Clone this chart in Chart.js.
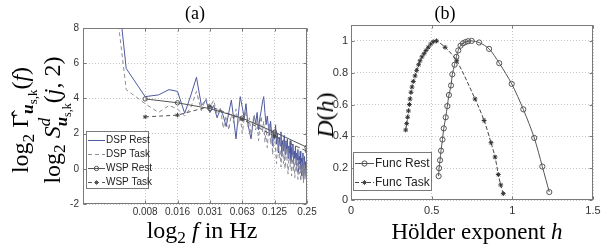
<!DOCTYPE html>
<html>
<head>
<meta charset="utf-8">
<script src="https://cdn.jsdelivr.net/npm/chart.js@4"></script>
<style>
body { margin: 0; background: #fff; }
#wrap { position: relative; width: 614px; height: 249px; overflow: hidden; font-family: "Liberation Serif", serif; color: #000; }
canvas { position: absolute; top: 0; }
#chartA { left: 0; }
#chartB { left: 310px; }
.lbl { position: absolute; white-space: nowrap; transform: translate(-50%, -50%); line-height: 1; }
.rot { transform: translate(-50%, -50%) rotate(-90deg); }
.lbl sub { font-size: 72%; vertical-align: -0.3em; line-height: 0; }
.lbl sub sub { font-size: 75%; }
.ss { display: inline-block; vertical-align: -0.4em; font-size: 70%; line-height: 1.0; text-align: left; }
.ss > span { display: block; }
</style>
</head>
<body>
<div id="wrap">
  <canvas id="chartA" width="330" height="249"></canvas>
  <canvas id="chartB" width="304" height="249"></canvas>
  <div class="lbl" style="left:195px;top:13px;font-size:18px">(a)</div>
  <div class="lbl" style="left:445px;top:13px;font-size:18px">(b)</div>
  <div class="lbl" style="left:202px;top:230px;font-size:24px">log<sub>2</sub> <i>f</i> in Hz</div>
  <div class="lbl" style="left:477px;top:231px;font-size:23px">Hölder exponent <i>h</i></div>
  <div class="lbl rot" style="left:21px;top:120px;font-size:24px">log<sub>2</sub> Γ̂<sub><b><i>u</i></b><sub>s,k</sub></sub>(<i>f</i>)</div>
  <div class="lbl rot" style="left:54px;top:120px;font-size:24px">log<sub>2</sub> <i>S</i><span class="ss"><span><i>d</i></span><span><b><i>u</i></b><sub>s,k</sub></span></span>(<i>j</i>, 2)</div>
  <div class="lbl rot" style="left:325px;top:115px;font-size:24px"><i>D</i>(<i>h</i>)</div>
</div>
<script>
// ---- (a) spectra ----
// DSP estimates live on a linear frequency grid (bin k = k * dspDf Hz)
const dspDf = 1 / 384;
const dspRest = [
  23, 5.7, 4.1, 4.2, 4.5, 4.4, 3.15, 4.2, 5.2, 3.6,
  3.9, 3.2, 3.6, 2.9, 3.4, 3.0, 2.4, 3.2, 3.9, 2.8,
  1.7, 3.0, 4.1, 3.5, 2.9, 3.7, 2.6, 2.1, 1.7, 2.5,
  3.0, 2.6, 3.2, 2.2, 2.9, 3.3, 3.8, 4.1, 3.2, 2.5,
  3.0, 2.4, 1.9, 2.7, 2.0, 1.3, 2.1, 1.7, 2.5, 1.4,
  2.0, 0.9, 1.8, 1.3, 2.1, 0.7, 1.6, 1.0, 1.9, 0.8,
  1.5, 1.1, 1.7, 0.6, 1.3, 0.9, 1.6, 0.4, 1.2, 0.8,
  1.4, 0.3, 1.0, 0.6, 1.3, 0.2, 0.9, 0.5, 1.1, -0.2,
  0.7, 0.3, 1.0, 0.0, 0.6, -0.4, 0.5, 0.9, -0.6, 0.3,
  0.7, -0.3, 0.4, 0.1, 0.6, 0.3
];
const dspTask = [
  20, 4.5, 3.7, 3.2, 3.6, 3.4, 3.0, 3.5, 4.4, 3.3,
  4.0, 3.5, 3.9, 3.1, 3.5, 2.3, 3.0, 2.2, 3.1, 2.6,
  3.4, 2.5, 3.0, 2.0, 2.8, 3.3, 2.4, 2.9, 1.9, 2.6,
  3.1, 2.2, 2.7, 1.6, 2.4, 3.0, 2.1, 2.7, 1.5, 2.3,
  1.2, 2.0, 2.6, 1.4, 1.9, 0.8, 1.6, 2.0, 1.0, 0.3,
  1.3, 1.7, 0.6, 1.1, 0.1, 0.9, 1.4, 0.3, 0.8, 0.0,
  0.7, 1.2, 0.2, -0.3, 0.5, 0.9, 0.1, 0.6, -0.4, 0.3,
  0.8, -0.1, 0.4, -0.5, 0.2, 0.6, -0.2, 0.3, -0.6, 0.1,
  0.5, -0.3, 0.2, -0.7, 0.0, 0.4, -0.4, 0.1, -0.8, -0.1,
  0.3, -0.5, 0.0, -0.6, 0.1, 0.2
];
// WSP estimates, one per octave (log2 of frequency)
const wspOctaves = [-7, -6, -5, -4, -3, -2];
const wspRest = [3.97, 3.75, 3.42, 2.88, 2.08, 1.22];
const wspTask = [2.95, 3.05, 3.55, 2.82, 1.85, 1.0];
const freqTicks = [-7, -6, -5, -4, -3, -2];
const freqTickLabels = ["0.008", "0.016", "0.031", "0.063", "0.125", "0.25"];

// ---- (b) multifractal spectra ----
const restH = [0.543, 0.546, 0.552, 0.558, 0.567, 0.575, 0.587, 0.597, 0.607, 0.620,
  0.628, 0.642, 0.653, 0.665, 0.679, 0.694, 0.710, 0.726, 0.748, 0.794,
  0.856, 0.919, 0.996, 1.068, 1.136, 1.186, 1.229];
const restD = [0.15, 0.20, 0.25, 0.31, 0.38, 0.45, 0.52, 0.59, 0.66, 0.72,
  0.79, 0.85, 0.90, 0.94, 0.97, 0.985, 0.993, 0.998, 1.0, 0.99,
  0.95, 0.86, 0.73, 0.57, 0.39, 0.21, 0.05];
const taskH = [0.339, 0.345, 0.351, 0.356, 0.362, 0.366, 0.372, 0.378, 0.386, 0.397,
  0.407, 0.419, 0.428, 0.440, 0.453, 0.465, 0.479, 0.494, 0.510, 0.530,
  0.583, 0.655, 0.769, 0.825, 0.868, 0.893, 0.913, 0.928, 0.944];
const taskD = [0.44, 0.48, 0.52, 0.56, 0.60, 0.635, 0.677, 0.71, 0.745, 0.78,
  0.815, 0.85, 0.875, 0.90, 0.92, 0.94, 0.96, 0.98, 0.995, 1.0,
  0.96, 0.875, 0.635, 0.50, 0.36, 0.27, 0.16, 0.095, 0.04];
const holderTicks = [0, 0.5, 1, 1.5];
const dimTicks = [0, 0.2, 0.4, 0.6, 0.8, 1];

function toPoints(xs, ys) {
  return xs.map((x, i) => ({ x: x, y: ys[i] }));
}

function dspPoints(vals) {
  return vals.map((v, i) => ({ x: Math.log2((i + 1) * dspDf), y: v }));
}

// plain number labels, "1" not "1.0"
function shortNum(v) {
  return String(Math.round(v * 10) / 10);
}

function drawMarker(ctx, style, x, y, r) {
  ctx.beginPath();
  if (style === "star") {
    for (let k = 0; k < 4; k++) {
      let t = k * Math.PI / 4;
      ctx.moveTo(x - r * Math.cos(t), y - r * Math.sin(t));
      ctx.lineTo(x + r * Math.cos(t), y + r * Math.sin(t));
    }
  } else {
    ctx.arc(x, y, r, 0, Math.PI * 2);
  }
  ctx.stroke();
}

// box around the plot area plus small inward ticks, matlab style
const framePlugin = {
  id: "frame",
  afterDatasetsDraw(chart) {
    const a = chart.chartArea;
    const ctx = chart.ctx;
    const l = Math.round(a.left) + 0.5, r = Math.round(a.right) - 0.5;
    const t = Math.round(a.top) + 0.5, b = Math.round(a.bottom) - 0.5;
    ctx.save();
    ctx.strokeStyle = "#7a7a7a";
    ctx.lineWidth = 1;
    ctx.beginPath();
    chart.scales.x.ticks.forEach(tk => {
      let px = Math.round(chart.scales.x.getPixelForValue(tk.value)) + 0.5;
      ctx.moveTo(px, b); ctx.lineTo(px, b - 3);
      ctx.moveTo(px, t); ctx.lineTo(px, t + 3);
    });
    chart.scales.y.ticks.forEach(tk => {
      let py = Math.round(chart.scales.y.getPixelForValue(tk.value)) + 0.5;
      ctx.moveTo(l, py); ctx.lineTo(l + 3, py);
      ctx.moveTo(r, py); ctx.lineTo(r - 3, py);
    });
    ctx.stroke();
    ctx.strokeRect(l, t, r - l, b - t);
    ctx.restore();
  }
};

const boxLegend = {
  id: "boxLegend",
  afterDraw(chart, args, opts) {
    const ctx = chart.ctx;
    ctx.save();
    ctx.fillStyle = "#fff";
    ctx.fillRect(opts.x, opts.y, opts.w, opts.h);
    ctx.strokeStyle = "#7a7a7a";
    ctx.lineWidth = 1;
    ctx.strokeRect(opts.x + 0.5, opts.y + 0.5, opts.w, opts.h);
    ctx.font = opts.fontSpec;
    ctx.textBaseline = "middle";
    chart.data.datasets.forEach((ds, i) => {
      let y = Math.round(opts.y + opts.first + i * opts.row) + 0.5;
      let x0 = opts.x + opts.lineFrom, x1 = opts.x + opts.lineTo;
      ctx.strokeStyle = ds.borderColor;
      ctx.setLineDash(ds.borderDash || []);
      ctx.beginPath();
      ctx.moveTo(x0, y);
      ctx.lineTo(x1, y);
      ctx.stroke();
      ctx.setLineDash([]);
      if (ds.pointRadius) {
        drawMarker(ctx, ds.pointStyle, (x0 + x1) / 2, y, ds.pointRadius);
      }
      ctx.fillStyle = "#222";
      ctx.fillText(ds.label, opts.x + opts.textX, y);
    });
    ctx.restore();
  }
};

const gridStyle = { color: "#c6c6c6", drawTicks: false, lineWidth: 1 };
const borderStyle = { display: false, dash: [1, 2] };

// chart (a)
new Chart(document.getElementById("chartA"), {
  type: "line",
  data: {
    datasets: [
      { label: "DSP Rest", data: dspPoints(dspRest), borderColor: "#4f5a9e", borderWidth: 1, pointRadius: 0, order: 2 },
      { label: "DSP Task", data: dspPoints(dspTask), borderColor: "#8c8c9a", borderWidth: 1, borderDash: [4, 3], pointRadius: 0, order: 1 },
      { label: "WSP Rest", data: toPoints(wspOctaves, wspRest), borderColor: "#555", borderWidth: 1, pointStyle: "circle", pointRadius: 2.2, pointBorderColor: "#555", pointBackgroundColor: "rgba(0,0,0,0)", order: 0 },
      { label: "WSP Task", data: toPoints(wspOctaves, wspTask), borderColor: "#555", borderWidth: 1, borderDash: [4, 3], pointStyle: "star", pointRadius: 2.2, pointBorderColor: "#444", order: 0 }
    ]
  },
  options: {
    responsive: false,
    animation: false,
    devicePixelRatio: 1,
    layout: { padding: { left: 0, top: 28, right: 23, bottom: 0 } },
    plugins: {
      legend: { display: false },
      tooltip: { enabled: false },
      boxLegend: { x: 86, y: 131, w: 62, h: 57, first: 8.5, row: 14.1, lineFrom: 2, lineTo: 19, textX: 20, fontSpec: "10px 'Liberation Sans', Arial, sans-serif" }
    },
    scales: {
      x: {
        type: "linear",
        min: -8.92,
        max: -2,
        afterBuildTicks: s => { s.ticks = freqTicks.map(v => ({ value: v })); },
        afterFit: s => { s.height = 45; },
        ticks: {
          callback: v => freqTickLabels[freqTicks.indexOf(v)],
          font: { family: "'Liberation Sans', Arial, sans-serif", size: 10 },
          color: "#333",
          padding: 2,
          maxRotation: 0,
          autoSkip: false
        },
        grid: gridStyle,
        border: borderStyle
      },
      y: {
        min: -2,
        max: 8,
        afterFit: s => { s.width = 83; },
        ticks: {
          stepSize: 2,
          font: { family: "'Liberation Sans', Arial, sans-serif", size: 10 },
          color: "#333",
          padding: 4
        },
        grid: gridStyle,
        border: borderStyle
      }
    }
  },
  plugins: [framePlugin, boxLegend]
});

// chart (b)
new Chart(document.getElementById("chartB"), {
  type: "line",
  data: {
    datasets: [
      { label: "Func Rest", data: toPoints(restH, restD), borderColor: "#555", borderWidth: 1, tension: 0.3, pointStyle: "circle", pointRadius: 2.6, pointBorderColor: "#555", pointBackgroundColor: "rgba(0,0,0,0)" },
      { label: "Func Task", data: toPoints(taskH, taskD), borderColor: "#444", borderWidth: 1, borderDash: [4, 2], tension: 0.3, pointStyle: "star", pointRadius: 2.4, pointBorderColor: "#333" }
    ]
  },
  options: {
    responsive: false,
    animation: false,
    devicePixelRatio: 1,
    layout: { padding: { left: 0, top: 25, right: 21, bottom: 0 } },
    plugins: {
      legend: { display: false },
      tooltip: { enabled: false },
      boxLegend: { x: 43, y: 152, w: 78, h: 38, first: 11, row: 18.5, lineFrom: 2, lineTo: 21, textX: 22, fontSpec: "12px 'Liberation Sans', Arial, sans-serif" }
    },
    scales: {
      x: {
        type: "linear",
        min: 0,
        max: 1.5,
        afterBuildTicks: s => { s.ticks = holderTicks.map(v => ({ value: v })); },
        afterFit: s => { s.height = 49; },
        ticks: {
          callback: shortNum,
          font: { family: "'Liberation Sans', Arial, sans-serif", size: 11 },
          color: "#333",
          padding: 4,
          maxRotation: 0,
          autoSkip: false
        },
        grid: gridStyle,
        border: borderStyle
      },
      y: {
        min: 0,
        max: 1.1,
        afterBuildTicks: s => { s.ticks = dimTicks.map(v => ({ value: v })); },
        afterFit: s => { s.width = 41; },
        ticks: {
          callback: shortNum,
          font: { family: "'Liberation Sans', Arial, sans-serif", size: 11 },
          color: "#333",
          padding: 3
        },
        grid: gridStyle,
        border: borderStyle
      }
    }
  },
  plugins: [framePlugin, boxLegend]
});
</script>
</body>
</html>
